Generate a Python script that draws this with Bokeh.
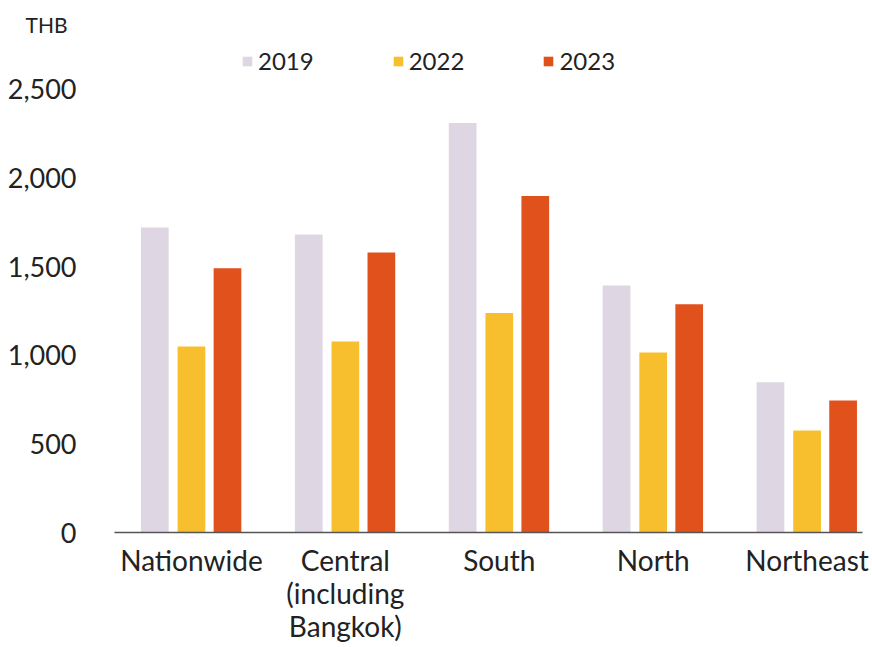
from bokeh.plotting import figure
from bokeh.models import Range1d, ColumnDataSource, Legend, LegendItem, FixedTicker, NumeralTickFormatter
from bokeh.embed import file_html
from bokeh.resources import INLINE

regions = ["Nationwide", "Central\n(including\nBangkok)", "South", "North", "Northeast"]
years = ["2019", "2022", "2023"]
v2019 = [1721, 1681, 2310, 1394, 847]
v2022 = [1050, 1077, 1238, 1016, 576]
v2023 = [1491, 1580, 1898, 1287, 745]
y_ticks = [0, 500, 1000, 1500, 2000, 2500]

colors = ["#DED6E2", "#F7BF2D", "#E1511C"]
offsets = [-0.238, 0.0, 0.234]
bar_w = 0.18

FONT = "Lato"

p = figure(width=872, height=647, output_backend="svg", toolbar_location=None,
           title="THB",
           x_range=Range1d(-0.5, 4.36), y_range=Range1d(0, 2770),
           min_border_left=114, min_border_right=10, min_border_top=41, min_border_bottom=115)
p.outline_line_color = None
p.xgrid.grid_line_color = None
p.ygrid.grid_line_color = None
p.background_fill_color = "white"
p.border_fill_color = "white"

p.title.align = "left"
p.title.offset = -89
p.title.text_font = FONT
p.title.text_font_size = "21px"
p.title.text_font_style = "normal"
p.title.text_color = "#222222"
p.title.standoff = 10

idx = list(range(len(regions)))
renderers = []
for vals, col, off in zip([v2019, v2022, v2023], colors, offsets):
    src = ColumnDataSource(dict(x=[i + off for i in idx], top=vals))
    r = p.vbar(x="x", top="top", width=bar_w, bottom=0, source=src,
               fill_color=col, line_color=None)
    renderers.append(r)

# y axis
p.yaxis.ticker = FixedTicker(ticks=y_ticks)
p.yaxis.formatter = NumeralTickFormatter(format="0,0")
p.yaxis.axis_line_color = None
p.yaxis.major_tick_line_color = None
p.yaxis.minor_tick_line_color = None
p.yaxis.major_label_text_font = FONT
p.yaxis.major_label_text_font_size = "27px"
p.yaxis.major_label_text_color = "#222222"
p.yaxis.major_label_standoff = 32

# x axis
p.xaxis.ticker = FixedTicker(ticks=idx)
p.xaxis.major_label_overrides = {i: lab for i, lab in zip(idx, regions)}
p.xaxis.axis_line_color = "#555555"
p.xaxis.axis_line_width = 1.5
p.xaxis.major_tick_line_color = None
p.xaxis.minor_tick_line_color = None
p.xaxis.major_label_text_font = FONT
p.xaxis.major_label_text_font_size = "28px"
p.xaxis.major_label_text_color = "#222222"
p.xaxis.major_label_standoff = 4
p.xaxis.major_label_text_line_height = 0.98

legend = Legend(items=[LegendItem(label=y, renderers=[r]) for y, r in zip(years, renderers)],
                orientation="horizontal", location=(127, 457),
                glyph_width=12, glyph_height=12, label_standoff=5, spacing=78,
                label_text_font=FONT, label_text_font_size="24px", label_text_color="#222222",
                border_line_color=None, background_fill_alpha=0, padding=0, margin=0)
p.add_layout(legend)

open("out.html", "w").write(file_html(p, INLINE))
